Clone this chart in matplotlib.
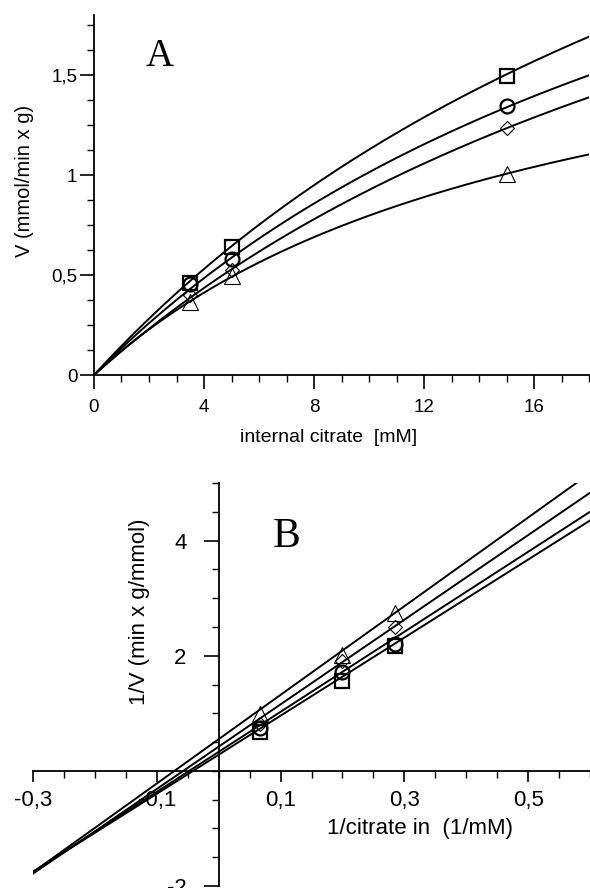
import numpy as np
import matplotlib
matplotlib.use('Agg')
import matplotlib.pyplot as plt
from matplotlib.ticker import FixedLocator, MultipleLocator, FuncFormatter

plt.rcParams['font.family'] = ['Liberation Sans', 'DejaVu Sans']

# internal citrate concentrations (mM) and measured rates
citrate = [3.5, 5, 15]
v_square = [0.46, 0.64, 1.495]
v_circle = [0.455, 0.58, 1.345]
v_diamond = [0.40, 0.525, 1.235]
v_triangle = [0.365, 0.495, 1.005]

# Michaelis-Menten fit parameters for panel A (square, circle, diamond, triangle)
vmax = [4.52, 3.73, 3.71, 2.12]
km = [30.1, 26.8, 30.1, 16.6]

# Lineweaver-Burk lines for panel B (square, circle, diamond, triangle)
lb_slope = [6.78, 6.95, 7.35, 7.70]
lb_intercept = [0.28, 0.33, 0.42, 0.55]

series = [v_square, v_circle, v_diamond, v_triangle]
markers = ['s', 'o', 'D', '^']
msizes = [10, 10, 7, 11]
mews = [1.6, 1.6, 0.8, 0.8]


def comma(v, pos):
    return ('%g' % v).replace('.', ',')


fig = plt.figure(figsize=(5.9, 8.88), dpi=100)

# ---- panel A ----
ax1 = fig.add_axes([94 / 590, 1 - 375 / 888, (589 - 94) / 590, (375 - 15) / 888])
s = np.linspace(0, 18, 300)
for vm, k in zip(vmax, km):
    ax1.plot(s, vm * s / (k + s), color='black', lw=1.4)
for vals, m, ms, mew in zip(series, markers, msizes, mews):
    ax1.plot(citrate, vals, linestyle='none', marker=m, ms=ms, mew=mew,
             mfc='none', mec='black')

ax1.set_xlim(0, 18)
ax1.set_ylim(0, 1.8)
ax1.spines['top'].set_visible(False)
ax1.spines['right'].set_visible(False)
ax1.spines['left'].set_linewidth(1.3)
ax1.spines['bottom'].set_linewidth(1.3)
ax1.xaxis.set_major_locator(FixedLocator([0, 4, 8, 12, 16]))
ax1.xaxis.set_minor_locator(MultipleLocator(1))
ax1.yaxis.set_major_locator(FixedLocator([0, 0.5, 1, 1.5]))
ax1.yaxis.set_minor_locator(MultipleLocator(0.125))
ax1.xaxis.set_major_formatter(FuncFormatter(comma))
ax1.yaxis.set_major_formatter(FuncFormatter(comma))
ax1.tick_params(which='major', length=10, width=1.2, labelsize=13.5)
ax1.tick_params(which='minor', length=5, width=1.0)
ax1.tick_params(axis='x', which='major', pad=7)
ax1.tick_params(axis='y', which='major', pad=2)
fig.text(160 / 590, 1 - 56 / 888, 'A', family='Liberation Serif', fontsize=28,
         ha='center', va='center')
fig.text(25 / 590, 1 - 181 / 888, 'V (mmol/min x g)', rotation=90,
         ha='center', va='center', fontsize=14.5)
fig.text(329 / 590, 1 - 438 / 888, 'internal citrate  [mM]',
         ha='center', va='center', fontsize=14)

# ---- panel B ----
ax2 = fig.add_axes([33 / 590, 2 / 888, (590 - 33) / 590, (886 - 483) / 888])
x = np.array([-0.3, 0.6])
for b, a in zip(lb_slope, lb_intercept):
    ax2.plot(x, a + b * x, color='black', lw=1.4, zorder=4)
for vals, m, ms, mew in zip(series, markers, msizes, mews):
    ax2.plot(1 / np.array(citrate), 1 / np.array(vals), linestyle='none',
             marker=m, ms=ms, mew=mew, mfc='none', mec='black', zorder=5)

ax2.set_xlim(-0.3, 0.6)
ax2.set_ylim(-2, 5)
ax2.spines['top'].set_visible(False)
ax2.spines['right'].set_visible(False)
ax2.spines['left'].set_position(('data', 0))
ax2.spines['bottom'].set_position(('data', 0))
ax2.spines['left'].set_linewidth(1.3)
ax2.spines['bottom'].set_linewidth(1.3)
ax2.xaxis.set_major_locator(FixedLocator([-0.3, -0.1, 0.1, 0.3, 0.5]))
ax2.xaxis.set_minor_locator(MultipleLocator(0.05))
ax2.yaxis.set_major_locator(FixedLocator([-2, 2, 4]))
ax2.yaxis.set_minor_locator(MultipleLocator(0.5))
ax2.xaxis.set_major_formatter(FuncFormatter(comma))
ax2.yaxis.set_major_formatter(FuncFormatter(comma))
ax2.tick_params(which='major', length=8, width=1.2, labelsize=16)
ax2.tick_params(which='minor', length=5, width=1.0)
ax2.tick_params(axis='x', which='major', pad=6)
ax2.tick_params(axis='y', which='major', length=11, pad=12)
fig.text(287 / 590, 1 - 537 / 888, 'B', family='Liberation Serif', fontsize=30,
         ha='center', va='center')
fig.text(140 / 590, 1 - 612 / 888, '1/V (min x g/mmol)', rotation=90,
         ha='center', va='center', fontsize=16)
fig.text(420 / 590, 1 - 828 / 888, '1/citrate in  (1/mM)',
         ha='center', va='center', fontsize=16)

fig.savefig('out.png', dpi=100)
